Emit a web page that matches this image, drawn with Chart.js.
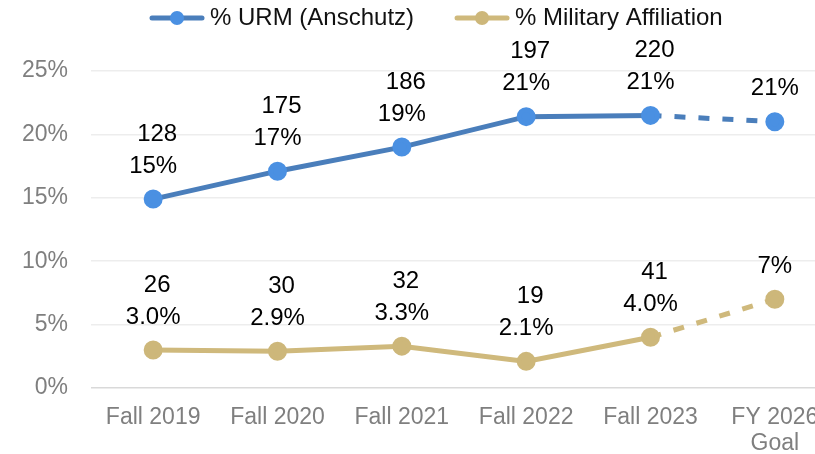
<!DOCTYPE html>
<html>
<head>
<meta charset="utf-8">
<script src="https://cdn.jsdelivr.net/npm/chart.js@4.4.1/dist/chart.umd.min.js"></script>
<style>
  html, body { margin: 0; padding: 0; background: #fff; overflow: hidden; }
  #wrap { width: 850px; height: 454px; position: relative; }
</style>
</head>
<body>
<div id="wrap"><canvas id="chart"></canvas></div>
<script>
const categories = ['Fall 2019', 'Fall 2020', 'Fall 2021', 'Fall 2022', 'Fall 2023', ['FY 2026', 'Goal']];
const urmPct = [14.9, 17.1, 19.0, 21.4, 21.5, 21.0];
const milPct = [3.0, 2.9, 3.3, 2.1, 4.0, 7.0];
const urmCounts = ['128', '175', '186', '197', '220', ''];
const milCounts = ['26', '30', '32', '19', '41', ''];
const urmPctText = ['15%', '17%', '19%', '21%', '21%', '21%'];
const milPctText = ['3.0%', '2.9%', '3.3%', '2.1%', '4.0%', '7%'];
const yTicks = [0, 5, 10, 15, 20, 25];

const FONT = '"Liberation Sans", Arial, Helvetica, sans-serif';
Chart.defaults.font.family = FONT;

// dashed last segment (goal projection)
const goalDash = ctx => ctx.p0DataIndex === 4 ? [11, 13] : undefined;

// two-line data labels: count above percent
const labelPlugin = {
    id: 'pointLabels',
    afterDatasetsDraw(chart) {
        const ctx = chart.ctx;
        ctx.save();
        ctx.font = '24px ' + FONT;
        ctx.fillStyle = '#000';
        ctx.textAlign = 'center';
        ctx.textBaseline = 'middle';
        chart.data.datasets.forEach((ds, i) => {
            const meta = chart.getDatasetMeta(i);
            meta.data.forEach((pt, j) => {
                const pctY = pt.y - 33;
                ctx.fillText(ds.pctText[j], pt.x, pctY);
                if (ds.counts[j]) ctx.fillText(ds.counts[j], pt.x + 4, pctY - 32);
            });
        });
        ctx.restore();
    }
};

// legend drawn as line + marker like the original
const legendPlugin = {
    id: 'lineLegend',
    afterDraw(chart) {
        const ctx = chart.ctx;
        ctx.save();
        ctx.font = '24px ' + FONT;
        ctx.textBaseline = 'middle';
        ctx.textAlign = 'left';
        const y = 18;
        let x = 150;
        chart.data.datasets.forEach(ds => {
            ctx.strokeStyle = ds.borderColor;
            ctx.lineWidth = 5;
            ctx.lineCap = 'round';
            ctx.beginPath();
            ctx.moveTo(x + 2, y);
            ctx.lineTo(x + 52, y);
            ctx.stroke();
            ctx.fillStyle = ds.pointBackgroundColor;
            ctx.beginPath();
            ctx.arc(x + 27, y, 7, 0, Math.PI * 2);
            ctx.fill();
            ctx.fillStyle = '#111';
            ctx.fillText(ds.label, x + 60, y);
            x += 60 + ctx.measureText(ds.label).width + 41;
        });
        ctx.restore();
    }
};

new Chart(document.getElementById('chart'), {
    type: 'line',
    data: {
        labels: categories,
        datasets: [
            {
                label: '% URM (Anschutz)',
                data: urmPct,
                counts: urmCounts,
                pctText: urmPctText,
                borderColor: '#4a7ebb',
                pointBackgroundColor: '#4a90e2',
                pointBorderColor: '#4a90e2',
                borderWidth: 5,
                pointRadius: 7,
                pointHoverRadius: 7,
                tension: 0,
                segment: { borderDash: goalDash }
            },
            {
                label: '% Military Affiliation',
                data: milPct,
                counts: milCounts,
                pctText: milPctText,
                borderColor: '#cfb97c',
                pointBackgroundColor: '#cdb77a',
                pointBorderColor: '#cdb77a',
                borderWidth: 5,
                pointRadius: 7,
                pointHoverRadius: 7,
                tension: 0,
                segment: { borderDash: goalDash }
            }
        ]
    },
    options: {
        responsive: true,
        maintainAspectRatio: false,
        animation: false,
        layout: { padding: { top: 71, right: 13, bottom: 0, left: 0 } },
        plugins: {
            legend: { display: false },
            tooltip: { enabled: false }
        },
        scales: {
            x: {
                offset: true,
                afterFit: s => { s.height = 66; },
                grid: { display: false },
                border: { display: false },
                ticks: {
                    color: '#7f7f7f',
                    font: { size: 23, lineHeight: 1.15 },
                    padding: 8,
                    maxRotation: 0,
                    autoSkip: false
                }
            },
            y: {
                min: 0,
                max: 25,
                afterFit: s => { s.width = 91; },
                afterBuildTicks: s => { s.ticks = yTicks.map(v => ({ value: v })); },
                border: { display: false },
                grid: {
                    drawTicks: false,
                    lineWidth: 1.5,
                    color: c => c.tick && c.tick.value === 0 ? '#d9d9d9' : '#ededed'
                },
                ticks: {
                    color: '#7f7f7f',
                    font: { size: 23 },
                    padding: 23,
                    callback: v => v + '%'
                }
            }
        }
    },
    plugins: [labelPlugin, legendPlugin]
});
</script>
</body>
</html>
